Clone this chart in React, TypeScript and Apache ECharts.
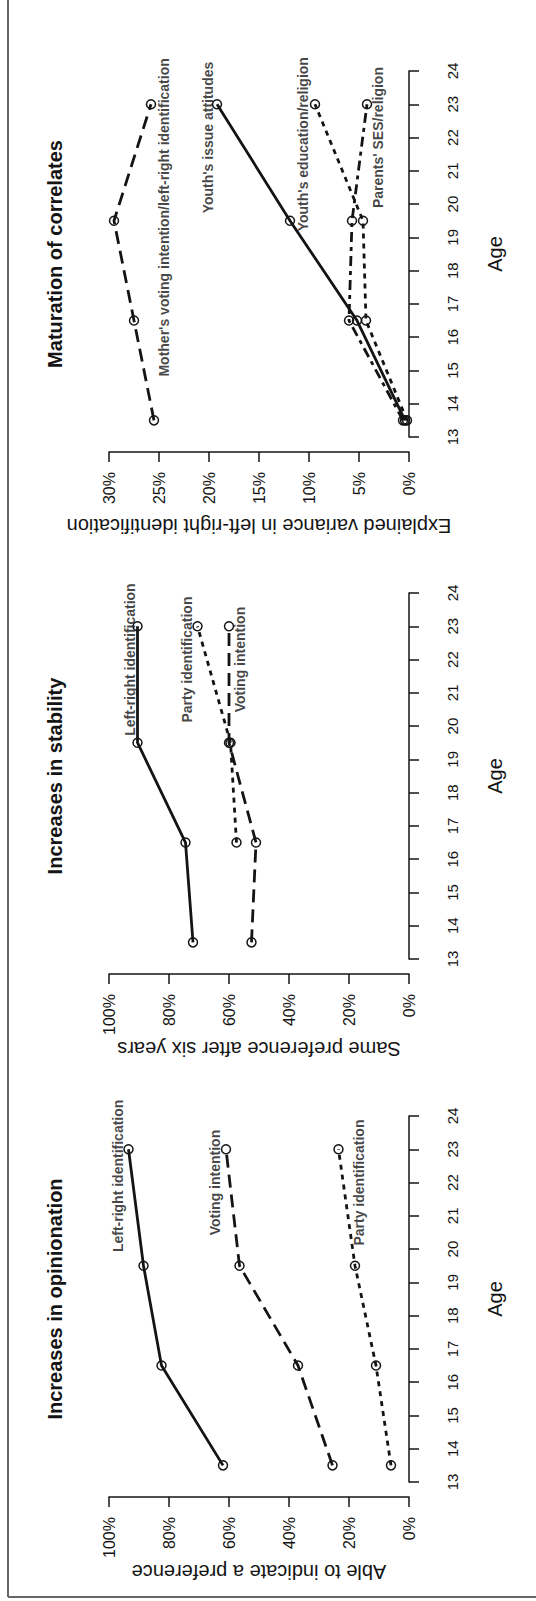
import React, { useEffect, useRef } from "react";
import * as echarts from "echarts";

// ---- Data ----
const AGES = [13.5, 16.5, 19.5, 23];

const OPINION_LEFT_RIGHT = [62, 82.5, 88.5, 93.5];
const OPINION_VOTING = [25.5, 37, 56.5, 61];
const OPINION_PARTY = [6, 11, 18, 23.5];

const STABILITY_LEFT_RIGHT = [72, 74.5, 90.5, 90.5];
const STABILITY_PARTY = [null, 57.5, 59.5, 70.5];
const STABILITY_VOTING = [52.5, 51, 60, 60];

const CORR_MOTHER = [25.5, 27.5, 29.5, 25.8];
const CORR_YOUTH_ISSUE = [0.4, 5.2, 11.9, 19.2];
const CORR_YOUTH_EDU = [0.2, 4.3, 4.6, 9.4];
const CORR_PARENTS_SES = [0.6, 6.0, 5.7, 4.2];

const PANEL_TITLES = ["Maturation of correlates", "Increases in stability", "Increases in opinionation"];
const PANEL_AXIS_NAMES = [
  "Explained variance in left-right identification",
  "Same preference after six years",
  "Able to indicate a preference",
];
const PANEL_MAX = [30, 100, 100];
const PANEL_INTERVAL = [5, 20, 20];

const INK = "#141414";
const FONT = "'Liberation Sans', Arial, Helvetica, sans-serif";

const SOLID: any = "solid";
const LONGDASH = [13, 7];
const DOTTED = [5, 5];
const TWODASH = [10, 5, 4, 5];

type Line = { name: string; values: (number | null)[]; dash: any };
type Note = { text: string; at: [number, number] };

const PANELS: { lines: Line[]; notes: Note[] }[] = [
  {
    lines: [
      { name: "Mother's voting intention/left-right identification", values: CORR_MOTHER, dash: LONGDASH },
      { name: "Youth's issue attitudes", values: CORR_YOUTH_ISSUE, dash: SOLID },
      { name: "Youth's education/religion", values: CORR_YOUTH_EDU, dash: DOTTED },
      { name: "Parents' SES/religion", values: CORR_PARENTS_SES, dash: TWODASH },
    ],
    notes: [
      { text: "Mother's voting intention/left-right identification", at: [24.5, 19.6] },
      { text: "Youth's issue attitudes", at: [20.1, 22.0] },
      { text: "Youth's education/religion", at: [10.6, 21.8] },
      { text: "Parents' SES/religion", at: [3.1, 22.0] },
    ],
  },
  {
    lines: [
      { name: "Left-right identification", values: STABILITY_LEFT_RIGHT, dash: SOLID },
      { name: "Party identification", values: STABILITY_PARTY, dash: DOTTED },
      { name: "Voting intention", values: STABILITY_VOTING, dash: LONGDASH },
    ],
    notes: [
      { text: "Left-right identification", at: [93, 22.0] },
      { text: "Party identification", at: [74, 22.0] },
      { text: "Voting intention", at: [56.3, 22.0] },
    ],
  },
  {
    lines: [
      { name: "Left-right identification", values: OPINION_LEFT_RIGHT, dash: SOLID },
      { name: "Voting intention", values: OPINION_VOTING, dash: LONGDASH },
      { name: "Party identification", values: OPINION_PARTY, dash: DOTTED },
    ],
    notes: [
      { text: "Left-right identification", at: [97, 22.2] },
      { text: "Voting intention", at: [64.7, 22.0] },
      { text: "Party identification", at: [16.7, 22.0] },
    ],
  },
];

const GRID_TOPS = [71, 593, 1116];
const GRID_H = 366;
const GRID_LEFT = 109;
const GRID_W = 300;

export default function App() {
  const ref = useRef<HTMLDivElement>(null);

  useEffect(() => {
    if (!ref.current) return;
    const chart = echarts.init(ref.current, undefined, { renderer: "svg" });

    const grids: any[] = [];
    const xAxes: any[] = [];
    const yAxes: any[] = [];
    const series: any[] = [];
    const graphics: any[] = [];

    PANELS.forEach((p, i) => {
      grids.push({ left: GRID_LEFT, top: GRID_TOPS[i], width: GRID_W, height: GRID_H, containLabel: false });
      xAxes.push({
        gridIndex: i,
        type: "value",
        min: 0,
        max: PANEL_MAX[i],
        interval: PANEL_INTERVAL[i],
        inverse: true,
        position: "bottom",
        offset: 15,
        axisLine: { show: true, lineStyle: { color: INK, width: 1.5 } },
        axisTick: { show: true, length: 10, lineStyle: { color: INK, width: 1.5 } },
        axisLabel: { rotate: 90, margin: 20, fontSize: 16, color: INK, fontFamily: FONT, formatter: "{value}%" },
        splitLine: { show: false },
        name: PANEL_AXIS_NAMES[i],
        nameLocation: "middle",
        nameRotate: 180,
        nameGap: 64,
        nameTextStyle: { fontSize: 20, color: INK, fontFamily: FONT },
      });
      yAxes.push({
        gridIndex: i,
        type: "value",
        min: 13,
        max: 24,
        interval: 1,
        position: "right",
        offset: 12,
        axisLine: { show: true, lineStyle: { color: INK, width: 1.5 } },
        axisTick: { show: true, length: 10, lineStyle: { color: INK, width: 1.5 } },
        axisLabel: { rotate: 90, margin: 24, fontSize: 15, color: INK, fontFamily: FONT },
        splitLine: { show: false },
        name: "Age",
        nameLocation: "middle",
        nameRotate: 90,
        nameGap: 64,
        nameTextStyle: { fontSize: 20, color: INK, fontFamily: FONT },
      });

      p.lines.forEach((ln) => {
        const data: number[][] = [];
        ln.values.forEach((v, k) => {
          if (v !== null && v !== undefined) data.push([v, AGES[k]]);
        });
        series.push({
          type: "line",
          name: ln.name,
          xAxisIndex: i,
          yAxisIndex: i,
          data,
          symbol: "circle",
          symbolSize: 9,
          itemStyle: { color: "rgba(0,0,0,0)", borderColor: INK, borderWidth: 1.5 },
          lineStyle: { color: INK, width: 2.8, type: ln.dash },
          emphasis: { disabled: true },
          silent: true,
          z: 3,
        });
      });

      series.push({
        type: "scatter",
        xAxisIndex: i,
        yAxisIndex: i,
        symbolSize: 1,
        itemStyle: { color: "rgba(0,0,0,0)" },
        silent: true,
        data: p.notes.map((n) => ({ name: n.text, value: n.at })),
        label: {
          show: true,
          position: "inside",
          rotate: 90,
          formatter: "{b}",
          fontSize: 14,
          fontWeight: "bold",
          color: INK,
          textBorderWidth: 0,
          textBorderColor: "transparent",
          fontFamily: FONT,
          align: "center",
          verticalAlign: "middle",
        },
        z: 4,
      });

      graphics.push({
        type: "text",
        x: 55,
        y: GRID_TOPS[i] + GRID_H / 2,
        rotation: Math.PI / 2,
        style: {
          text: PANEL_TITLES[i],
          fill: INK,
          fontSize: 20,
          fontWeight: "bold",
          fontFamily: FONT,
          align: "center",
          verticalAlign: "middle",
          textAlign: "center",
          textVerticalAlign: "middle",
        },
      });
    });

    graphics.push({
      type: "line",
      shape: { x1: 8, y1: 0, x2: 8, y2: 1597 },
      style: { stroke: "#666", lineWidth: 2 },
    });
    graphics.push({
      type: "line",
      shape: { x1: 8, y1: 1597, x2: 536, y2: 1597 },
      style: { stroke: "#666", lineWidth: 2 },
    });

    chart.setOption({
      animation: false,
      backgroundColor: "#ffffff",
      grid: grids,
      xAxis: xAxes,
      yAxis: yAxes,
      series,
      graphic: graphics,
    });

    return () => chart.dispose();
  }, []);

  return (
    <div
      ref={ref}
      style={{ position: "absolute", left: 0, top: 0, width: 536, height: 1601 }}
    />
  );
}
